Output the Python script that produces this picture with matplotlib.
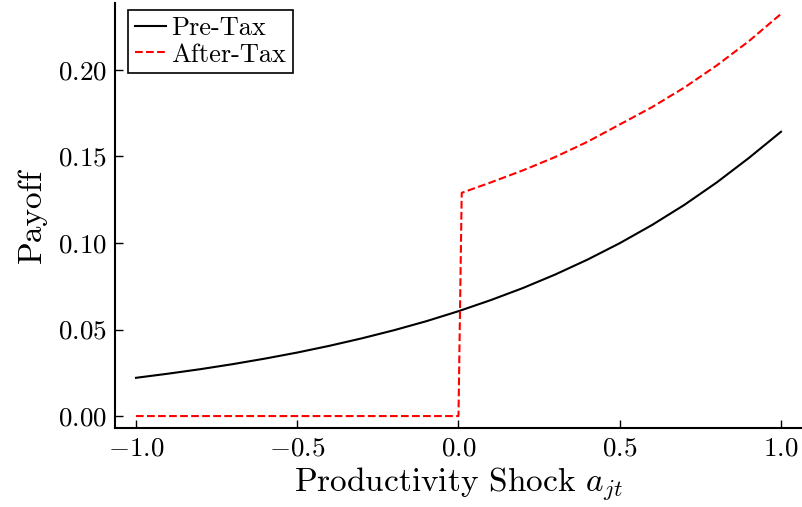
import matplotlib
matplotlib.use("Agg")
import matplotlib.pyplot as plt

plt.rcParams['font.family'] = 'serif'
plt.rcParams['font.serif'] = ['cmr10']
plt.rcParams['mathtext.fontset'] = 'cm'
plt.rcParams['axes.formatter.use_mathtext'] = True

# values
shock = [-1.0, -0.9, -0.8, -0.7, -0.6, -0.5, -0.4, -0.3, -0.2, -0.1, 0.0,
         0.1, 0.2, 0.3, 0.4, 0.5, 0.6, 0.7, 0.8, 0.9, 1.0]
pre_tax = [0.0221, 0.0245, 0.0271, 0.0300, 0.0332, 0.0367, 0.0406, 0.0449, 0.0496, 0.0548, 0.0606,
           0.0670, 0.0740, 0.0818, 0.0904, 0.0999, 0.1104, 0.1220, 0.1349, 0.1491, 0.1643]

shock_after = [-1.0, 0.0, 0.01, 0.1, 0.2, 0.3, 0.4, 0.5, 0.6, 0.7, 0.8, 0.9, 1.0]
after_tax = [0.0, 0.0, 0.1290, 0.1350, 0.1420, 0.1497, 0.1585, 0.1685, 0.1785, 0.1898, 0.2025, 0.2166, 0.2324]

fig = plt.figure(figsize=(8.03, 5.07), dpi=100)
ax = fig.add_axes([115 / 803, 1 - 428 / 507, 686 / 803, 425 / 507])

ax.plot(shock, pre_tax, color='black', lw=1.5, label='Pre-Tax')
ax.plot(shock_after, after_tax, color='red', lw=1.5, ls='--', label='After-Tax')

ax.set_xlim(-1.065, 1.062)
ax.set_ylim(-0.0069, 0.2387)
ax.set_xticks([-1.0, -0.5, 0.0, 0.5, 1.0])
ax.set_yticks([0.0, 0.05, 0.10, 0.15, 0.20])
ax.set_xticklabels(['$-1.0$', '$-0.5$', '$0.0$', '$0.5$', '$1.0$'])
ax.set_yticklabels(['$0.00$', '$0.05$', '$0.10$', '$0.15$', '$0.20$'])
ax.tick_params(direction='in', length=5.5, width=1, labelsize=19.5, pad=6)

ax.spines['top'].set_visible(False)
ax.spines['right'].set_visible(False)
ax.spines['left'].set_linewidth(1.5)
ax.spines['bottom'].set_linewidth(1.5)

ax.set_xlabel('Productivity Shock $a_{jt}$', fontsize=24, labelpad=4)
ax.set_ylabel('Payoff', fontsize=24, labelpad=8)

leg = ax.legend(loc='upper left', bbox_to_anchor=(13 / 686, 1 - 7 / 425), fontsize=19,
                handlelength=1.2, handletextpad=0.2, borderpad=0.25, labelspacing=0.1,
                fancybox=False, framealpha=1, borderaxespad=0)
leg.get_frame().set_edgecolor('black')
leg.get_frame().set_linewidth(1.2)

fig.savefig('out.png', dpi=100)
